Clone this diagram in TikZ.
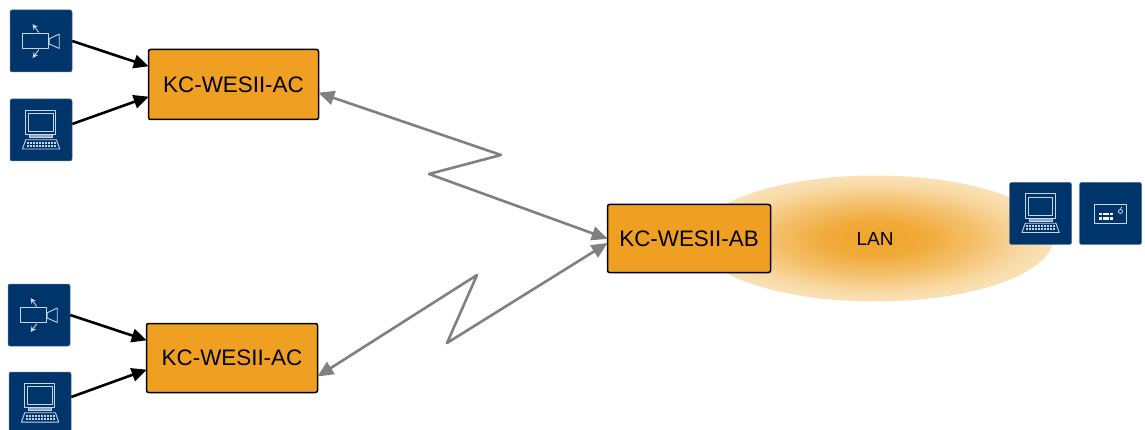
\documentclass[tikz,border=0pt]{standalone}
\usepackage{fontspec}
\setmainfont{Liberation Sans}
\usetikzlibrary{arrows.meta}
\definecolor{boxor}{HTML}{EFA023}
\definecolor{lanout}{HTML}{FAE6C0}
\definecolor{tileblue}{HTML}{00356B}
\definecolor{iconline}{HTML}{C9D6E6}
\definecolor{greyline}{HTML}{808080}
\pgfdeclareradialshading{lanshade}{\pgfpoint{0bp}{0bp}}{%
 color(0bp)=(boxor!95!lanout);
 color(7bp)=(boxor!85!lanout);color(14bp)=(boxor!55!lanout);
 color(21bp)=(boxor!18!lanout);color(27bp)=(lanout);
 color(50bp)=(lanout);color(100bp)=(lanout)}
\tikzset{
 x=1pt,y=-1pt,
 devbox/.style={draw=black,line width=1.5pt,fill=boxor,rounded corners=2pt,inner sep=0pt,font=\fontsize{22.4}{26}\selectfont},
 tile/.style={fill=tileblue,draw=tileblue!70!white,line width=.5pt,rounded corners=2pt,minimum size=62pt,inner sep=0pt},
 blackarrow/.style={draw=black,line width=2.6pt,-{Triangle[length=15pt,width=13.5pt]},shorten >=-1pt},
 greyarrow/.style={draw=greyline,line width=2.6pt,line join=round,{Triangle[length=16pt,width=14pt]}-{Triangle[length=16pt,width=14pt]},shorten <=-1pt,shorten >=-1pt},
 ic/.style={draw=iconline,line width=.9pt,line join=round},
 camicon/.pic={
  \draw[ic] (12.5,24) rectangle (39,39);
  \draw[ic] (39.5,29) -- (49.5,24.3) -- (49.5,38.7) -- (39.5,34.3) -- cycle;
  \draw[ic,-{Stealth[length=5.5pt,width=5.5pt]}] (29,22.7) -- (22.8,14.3);
  \draw[ic,-{Stealth[length=5.5pt,width=5.5pt]}] (29,40) -- (22.8,48.3);
 },
 compicon/.pic={
  \draw[ic] (16,11.3) rectangle (46,36);
  \draw[ic] (19,15) rectangle (43.3,33);
  \draw[ic,fill=iconline!70!tileblue] (20,36) rectangle (43,39);
  \draw[ic] (16,41) -- (46.7,41) -- (50,50.3) -- (12.7,50.3) -- cycle;
  \foreach \r in {44,47}{\draw[draw=iconline,line width=1.6pt,dash pattern=on 2pt off 1pt] (17,\r) -- (46.5,\r);}
 },
 keyicon/.pic={
  \draw[ic] (15,21.8) rectangle (47.5,40.8);
  \foreach \r in {31.8,36.3}{\draw[draw=white,line width=2.8pt,dash pattern=on 2.8pt off .9pt] (19.8,\r) -- (33.5,\r);}
  \draw[draw=iconline,line width=.8pt] (41.2,29.2) circle (2);
  \draw[draw=iconline,line width=.8pt] (41,27.5) -- (42.5,24.5);
 }
}
\begin{document}
\begin{tikzpicture}
\useasboundingbox (0,0) rectangle (1145,430);
\clip (0,0) rectangle (1145,430);
\shade[shading=lanshade] (875,238.5) ellipse [x radius=178,y radius=63];
\node[font=\fontsize{19}{22}\selectfont] (lan) at (875,239) {LAN};
\node[devbox,minimum width=170pt,minimum height=70pt] (ac1) at (233.5,84.5) {KC-WESII-AC};
\node[devbox,minimum width=171pt,minimum height=69pt] (ac2) at (232,358) {KC-WESII-AC};
\node[devbox,minimum width=163pt,minimum height=68pt] (ab) at (689,238.5) {KC-WESII-AB};
\node[tile] (cam1) at (41,41) {};
\node[tile] (comp1) at (41,130) {};
\node[tile] (cam2) at (39,315) {};
\node[tile] (comp2) at (40,403) {};
\node[tile] (comp3) at (1040.5,213.5) {};
\node[tile] (key) at (1110.5,213.5) {};
\pic at (cam1.north west) {camicon};
\pic at (comp1.north west) {compicon};
\pic at (cam2.north west) {camicon};
\pic at (comp2.north west) {compicon};
\pic at (comp3.north west) {compicon};
\pic at (key.north west) {keyicon};
\draw[blackarrow] (cam1.east) -- ([yshift=18.5pt]ac1.west);
\draw[blackarrow] ([yshift=6pt]comp1.east) -- ([yshift=-12.5pt]ac1.west);
\draw[blackarrow] (cam2.east) -- ([yshift=18pt]ac2.west);
\draw[blackarrow] ([yshift=6pt]comp2.east) -- ([yshift=-12pt]ac2.west);
\coordinate (z1a) at (501,155);
\coordinate (z1b) at (429,174);
\coordinate (z2a) at (477,275);
\coordinate (z2b) at (447,343);
\draw[greyarrow] ([yshift=-8.5pt]ac1.east) -- (z1a) -- (z1b) -- (ab.west);
\draw[greyarrow] ([yshift=-18pt]ac2.east) -- (z2a) -- (z2b) -- ([yshift=-5pt]ab.west);
\end{tikzpicture}
\end{document}
